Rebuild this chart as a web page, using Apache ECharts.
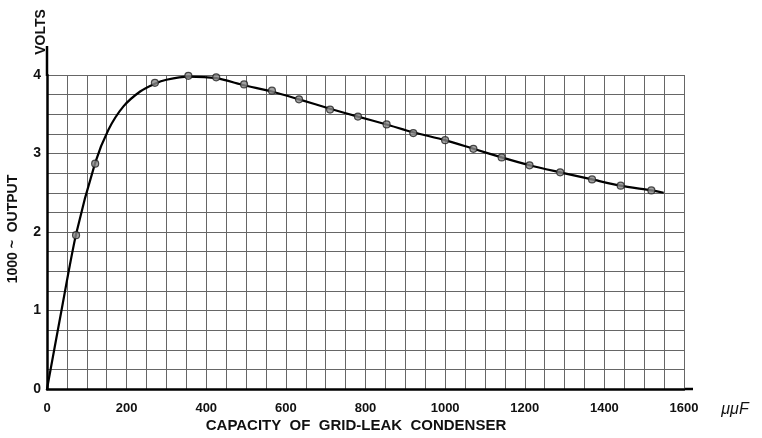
<!DOCTYPE html>
<html>
<head>
<meta charset="utf-8">
<script src="https://cdn.jsdelivr.net/npm/echarts@6/dist/echarts.min.js"></script>
<style>
html,body{margin:0;padding:0;background:#fff;}
#chart{width:762px;height:438px;}
</style>
</head>
<body>
<div id="chart"></div>
<script>
// Smooth curve (capacity in µµF, output in volts)
var curveX = [0, 36, 73, 121, 154, 192, 234, 271, 300, 355, 425, 495, 565, 633, 711, 781, 853, 920, 1000, 1071, 1142, 1212, 1289, 1369, 1441, 1518, 1549];
var curveY = [0, 0.99, 1.97, 2.88, 3.30, 3.60, 3.79, 3.89, 3.94, 3.98, 3.96, 3.87, 3.79, 3.69, 3.57, 3.47, 3.37, 3.27, 3.17, 3.06, 2.95, 2.85, 2.76, 2.67, 2.59, 2.53, 2.50];
// Measured points (circles)
var pointX = [73, 121, 271, 355, 425, 495, 565, 633, 711, 781, 853, 920, 1000, 1071, 1142, 1212, 1289, 1369, 1441, 1518];
var pointY = [1.96, 2.87, 3.90, 3.99, 3.97, 3.88, 3.80, 3.69, 3.56, 3.47, 3.37, 3.26, 3.17, 3.06, 2.95, 2.85, 2.76, 2.67, 2.59, 2.53];
var xTickLabels = [0, 200, 400, 600, 800, 1000, 1200, 1400, 1600];
var yTickLabels = [0, 1, 2, 3, 4];

var FONT = '"Liberation Sans", Arial, sans-serif';
var chart = echarts.init(document.getElementById('chart'), null, {renderer: 'canvas'});

function zip(a, b) { return a.map(function (v, i) { return [v, b[i]]; }); }

chart.setOption({
  backgroundColor: '#ffffff',
  animation: false,
  grid: {left: 47, right: 78, top: 75, bottom: 49, containLabel: false},
  xAxis: {
    type: 'value', min: 0, max: 1600, interval: 50,
    axisLine: {show: true, onZero: false, lineStyle: {color: '#000', width: 2.5}},
    axisTick: {show: false},
    axisLabel: {
      margin: 13, color: '#111', fontFamily: FONT, fontSize: 13, fontWeight: 'bold',
      formatter: function (v) { return xTickLabels.indexOf(v) >= 0 ? String(v) : ''; }
    },
    splitLine: {show: true, lineStyle: {color: '#666', width: 1}}
  },
  yAxis: {
    type: 'value', min: 0, max: 4, interval: 0.25,
    axisLine: {show: true, onZero: false, lineStyle: {color: '#000', width: 2.5}},
    axisTick: {show: false},
    axisLabel: {
      margin: 6, color: '#111', fontFamily: FONT, fontSize: 14, fontWeight: 'bold',
      formatter: function (v) { return yTickLabels.indexOf(v) >= 0 ? String(v) : ''; }
    },
    splitLine: {show: true, lineStyle: {color: '#666', width: 1}}
  },
  series: [
    {
      type: 'line', data: zip(curveX, curveY), smooth: 0.25, showSymbol: false,
      lineStyle: {color: '#000', width: 2.2}, z: 3
    },
    {
      type: 'scatter', data: zip(pointX, pointY), symbol: 'circle', symbolSize: 7,
      itemStyle: {color: '#8a8a8a', borderColor: '#222', borderWidth: 1.2}, z: 4
    }
  ],
  graphic: [
    {type: 'line', shape: {x1: 47, y1: 46, x2: 47, y2: 76}, style: {stroke: '#000', lineWidth: 2.5}},
    {type: 'line', shape: {x1: 684, y1: 389, x2: 693, y2: 389}, style: {stroke: '#000', lineWidth: 2.5}},
    {type: 'text', x: 41, y: 32, rotation: Math.PI / 2, style: {text: 'VOLTS', font: 'bold 14px ' + FONT, fill: '#111', textAlign: 'center', textVerticalAlign: 'middle'}},
    {type: 'text', x: 13, y: 229, rotation: Math.PI / 2, style: {text: '1000 ~  OUTPUT', font: 'bold 14px ' + FONT, fill: '#111', textAlign: 'center', textVerticalAlign: 'middle'}},
    {type: 'text', x: 356, y: 426, style: {text: 'CAPACITY  OF  GRID-LEAK  CONDENSER', font: 'bold 15px ' + FONT, fill: '#111', textAlign: 'center', textVerticalAlign: 'middle'}},
    {type: 'text', x: 735, y: 410, style: {text: 'μμF', font: 'italic 16px ' + FONT, fill: '#111', textAlign: 'center', textVerticalAlign: 'middle'}}
  ]
});
</script>
</body>
</html>
